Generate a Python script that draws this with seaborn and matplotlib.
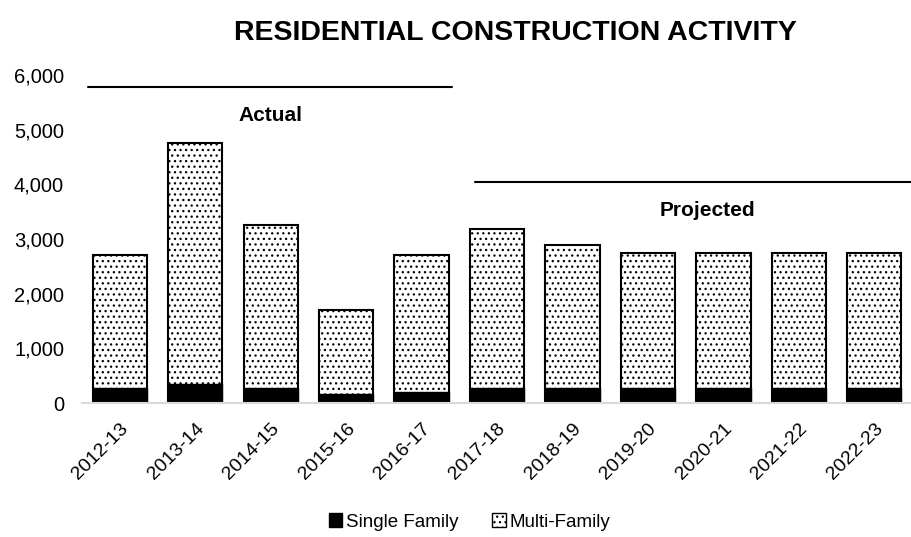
import pandas as pd
import matplotlib
matplotlib.use("Agg")
import matplotlib.pyplot as plt
import seaborn as sns
from matplotlib.patches import Patch

years = ["2012-13", "2013-14", "2014-15", "2015-16", "2016-17", "2017-18",
         "2018-19", "2019-20", "2020-21", "2021-22", "2022-23"]
single_family = [275, 345, 275, 165, 205, 270, 270, 270, 270, 270, 270]
multi_family = [2425, 4405, 2975, 1535, 2505, 2920, 2630, 2480, 2480, 2480, 2480]

df = pd.DataFrame({"year": years, "single": single_family, "multi": multi_family})
df["total"] = df["single"] + df["multi"]

sns.set_style("white")
plt.rcParams["font.family"] = ["Liberation Sans", "DejaVu Sans"]
plt.rcParams["hatch.linewidth"] = 0.9
plt.rcParams["text.color"] = "black"
plt.rcParams["xtick.color"] = "black"
plt.rcParams["ytick.color"] = "black"

fig = plt.figure(figsize=(9.12, 5.37), dpi=100)
ax = fig.add_axes([0.09, 0.2495, 0.91, 0.6105])

# stacked: total bar with dots, single family drawn over it
sns.barplot(data=df, x="year", y="total", color="white", edgecolor="black",
            linewidth=1.5, hatch="...", width=0.72, ax=ax)
sns.barplot(data=df, x="year", y="single", color="black", edgecolor="black",
            linewidth=1.0, width=0.72, ax=ax)

ax.set_ylim(0, 6000)
ax.set_xlim(-0.5, 10.5)
ax.set_yticks(range(0, 6001, 1000))
ax.set_yticklabels([f"{v:,}" for v in range(0, 6001, 1000)])
ax.tick_params(axis="y", length=0, pad=13, labelsize=14.5)
ax.tick_params(axis="x", length=0, pad=12, labelsize=14)
plt.setp(ax.get_xticklabels(), rotation=45, ha="right", rotation_mode="anchor")
ax.set_xlabel("")
ax.set_ylabel("")
for s in ["left", "right", "top"]:
    ax.spines[s].set_visible(False)
ax.spines["bottom"].set_color("#d9d9d9")
ax.spines["bottom"].set_linewidth(1.5)

# period markers
ax.plot([-0.42, 4.4], [5785, 5785], color="black", lw=1.5, clip_on=False)
ax.plot([4.71, 10.5], [4050, 4050], color="black", lw=1.5, clip_on=False)
ax.text(2, 5255, "Actual", ha="center", va="center", fontsize=15, fontweight="bold")
ax.text(7.79, 3520, "Projected", ha="center", va="center", fontsize=15, fontweight="bold")

fig.suptitle("RESIDENTIAL CONSTRUCTION ACTIVITY", x=0.565, y=0.963,
             fontsize=20.5, fontweight="bold")

handles = [Patch(facecolor="black", edgecolor="black", label="Single Family"),
           Patch(facecolor="white", edgecolor="black", hatch="...", label="Multi-Family")]
fig.legend(handles=handles, loc="center", bbox_to_anchor=(0.515, 0.028), ncol=2,
           frameon=False, fontsize=13.5, handlelength=0.7, handleheight=0.7,
           handletextpad=0.2, columnspacing=1.8)

fig.savefig("out.png", dpi=100)
